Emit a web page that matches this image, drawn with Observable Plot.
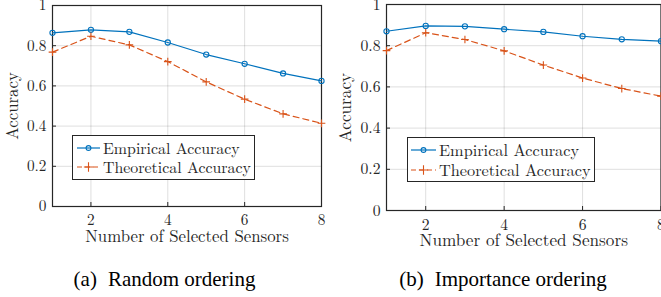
<!DOCTYPE html>
<html>
<head>
<meta charset="utf-8">
<script src="https://cdn.jsdelivr.net/npm/d3@7"></script>
<script src="https://cdn.jsdelivr.net/npm/@observablehq/plot@0.6"></script>
<style>
  html, body { margin: 0; padding: 0; background: #fff; }
  #root { position: relative; width: 661px; height: 297px; overflow: hidden; background: #fff; }
  .panel { position: absolute; top: 0; }
  .legend { position: absolute; background: #fff; border: 1px solid #262626; box-sizing: border-box; color: #262626; }
  .legend svg { position: absolute; }
  .legend span { position: absolute; white-space: nowrap; }
  .caption { position: absolute; font-size: 21px; color: #000; white-space: nowrap; transform: translateX(-50%); line-height: 24px; }
</style>
</head>
<body>
<div id="root"></div>
<script>
// ---- data ----
const sensors = [1, 2, 3, 4, 5, 6, 7, 8];
const randomEmpirical   = [0.864, 0.879, 0.869, 0.816, 0.756, 0.710, 0.662, 0.625];
const randomTheoretical = [0.768, 0.847, 0.804, 0.721, 0.620, 0.534, 0.461, 0.414];
const importanceEmpirical   = [0.870, 0.896, 0.894, 0.880, 0.867, 0.846, 0.831, 0.822];
const importanceTheoretical = [0.776, 0.863, 0.830, 0.775, 0.706, 0.643, 0.592, 0.555];
const xTicks = [2, 4, 6, 8];
const yTicks = [0, 0.2, 0.4, 0.6, 0.8, 1];
const yTickLabels = ["0", "0.2", "0.4", "0.6", "0.8", "1"];
const seriesNames = ["Empirical Accuracy", "Theoretical Accuracy"];
const captionLabels = ["(a)", "(b)"];
const captionTexts = ["Random ordering", "Importance ordering"];
const xLabel = "Number of Selected Sensors";
const yLabel = "Accuracy";

const BLUE = "#0072BD", ORANGE = "#D95319", AXIS = "#262626";
const CM = "'Latin Modern Roman', 'Liberation Serif', serif";
const TIMES = "'Liberation Serif', 'Times New Roman', serif";

function rows(vals) { return sensors.map((s, i) => ({x: s, y: vals[i]})); }

function makePanel(emp, theo, o) {
  const e = rows(emp), t = rows(theo);
  return Plot.plot({
    width: o.width, height: o.height,
    marginLeft: o.ml, marginRight: o.mr, marginTop: o.mt, marginBottom: o.mb,
    style: {fontFamily: CM, fontSize: o.fs + "px", color: AXIS, background: "transparent", overflow: "visible"},
    x: {domain: [1, 8]},
    y: {domain: [0, 1]},
    marks: [
      Plot.gridX(xTicks, {stroke: "#000", strokeOpacity: 0.13, strokeWidth: 1}),
      Plot.gridY(yTicks, {stroke: "#000", strokeOpacity: 0.13, strokeWidth: 1}),
      Plot.axisX(xTicks, {tickSize: -4, tickPadding: 12, stroke: AXIS, fill: AXIS, tickFormat: d => String(d),
        label: null}),
      Plot.axisX({anchor: "bottom", ticks: [], label: xLabel, labelAnchor: "center", labelOffset: o.xlo, labelArrow: "none",
        fontSize: o.lfs, fill: AXIS, tickSize: 0}),
      Plot.axisY(yTicks, {tickSize: -4, tickPadding: 10, stroke: AXIS, fill: AXIS, tickFormat: (d, i) => yTickLabels[i],
        label: null}),
      Plot.axisY({anchor: "left", ticks: [], label: yLabel, labelAnchor: "center", labelOffset: o.ylo, labelArrow: "none",
        fontSize: o.lfs, fill: AXIS, tickSize: 0}),
      Plot.frame({stroke: AXIS, strokeWidth: 1.2}),
      Plot.line(e, {x: "x", y: "y", stroke: BLUE, strokeWidth: 1.2}),
      Plot.dot(e, {x: "x", y: "y", stroke: BLUE, fill: "none", r: 2.6, strokeWidth: 1.1}),
      Plot.line(t, {x: "x", y: "y", stroke: ORANGE, strokeWidth: 1.2, strokeDasharray: "6,4"}),
      Plot.dot(t, {x: "x", y: "y", stroke: ORANGE, symbol: "plus", r: 2.6, strokeWidth: 1.1})
    ]
  });
}

function makeLegend(o) {
  const div = document.createElement("div");
  div.className = "legend";
  Object.assign(div.style, {left: o.x + "px", top: o.y + "px", width: o.w + "px", height: o.h + "px",
    fontSize: o.fs + "px", fontFamily: CM});
  const specs = [
    {name: seriesNames[0], color: BLUE, dash: null, sym: "circle", cy: o.r1},
    {name: seriesNames[1], color: ORANGE, dash: "5,3", sym: "plus", cy: o.r2}
  ];
  for (const s of specs) {
    const svg = d3.create("svg").attr("width", o.lw + 2).attr("height", 10)
      .style("left", o.lx + "px").style("top", (s.cy - 5) + "px");
    svg.append("line").attr("x1", 1).attr("x2", o.lw + 1).attr("y1", 5).attr("y2", 5)
      .attr("stroke", s.color).attr("stroke-width", 1.2).attr("stroke-dasharray", s.dash);
    const cx = 1 + o.lw / 2;
    if (s.sym === "circle") {
      svg.append("circle").attr("cx", cx).attr("cy", 5).attr("r", 2.4).attr("fill", "none").attr("stroke", s.color).attr("stroke-width", 1.1);
    } else {
      svg.append("path").attr("transform", `translate(${cx},5)`).attr("d", d3.symbol(d3.symbolPlus, 30)())
        .attr("fill", "none").attr("stroke", s.color).attr("stroke-width", 1.1);
    }
    div.appendChild(svg.node());
    const sp = document.createElement("span");
    sp.textContent = s.name;
    sp.style.left = o.tx + "px";
    sp.style.top = (s.cy - o.fs * 0.6) + "px";
    sp.style.lineHeight = (o.fs * 1.2) + "px";
    div.appendChild(sp);
  }
  return div;
}

const root = document.getElementById("root");

const left = makePanel(randomEmpirical, randomTheoretical,
  {width: 330, height: 250, ml: 52, mr: 9, mt: 5, mb: 44, fs: 15.3, lfs: 16.8, xlo: 35, ylo: 46});
left.classList.add("panel"); left.style.left = "0px";
root.appendChild(left);

const right = makePanel(importanceEmpirical, importanceTheoretical,
  {width: 340, height: 254, ml: 56, mr: 9.5, mt: 4, mb: 44, fs: 15.7, lfs: 17.2, xlo: 35, ylo: 48});
right.classList.add("panel"); right.style.left = "330px";
root.appendChild(right);

root.appendChild(makeLegend({x: 72, y: 135, w: 183, h: 45, fs: 15.9, r1: 11.5, r2: 31, lx: 3, lw: 23, tx: 30}));
root.appendChild(makeLegend({x: 407, y: 137, w: 188, h: 45, fs: 16.3, r1: 11.5, r2: 32, lx: 2, lw: 25, tx: 31}));

for (const [i, cx] of [[0, 164.5], [1, 503]]) {
  const c = document.createElement("div");
  c.className = "caption";
  c.style.fontFamily = TIMES;
  const a = document.createElement("span");
  a.textContent = captionLabels[i];
  const b = document.createElement("span");
  b.textContent = captionTexts[i];
  b.style.marginLeft = "11px";
  c.appendChild(a); c.appendChild(b);
  c.style.left = cx + "px";
  c.style.top = "267px";
  root.appendChild(c);
}
</script>
</body>
</html>
